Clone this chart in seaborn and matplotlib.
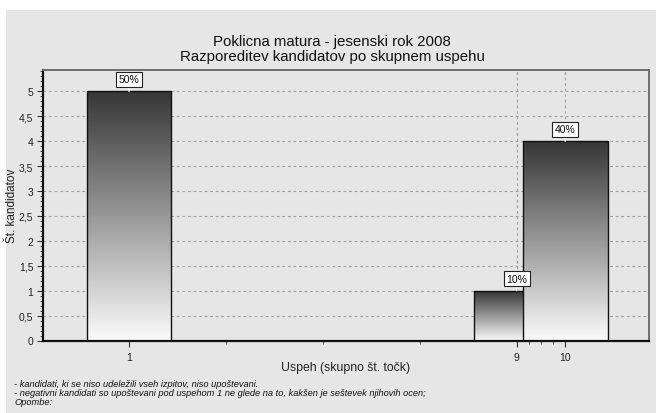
import matplotlib
matplotlib.use("Agg")
import matplotlib.pyplot as plt
import matplotlib.patches as mpatches
import numpy as np
import pandas as pd
import seaborn as sns

# data
uspeh = [1, 9, 10]
kandidati = [5, 1, 4]
title_lines = ["Poklicna matura - jesenski rok 2008",
               "Razporeditev kandidatov po skupnem uspehu"]
notes = ["- kandidati, ki se niso udeležili vseh izpitov, niso upoštevani.",
         "- negativni kandidati so upoštevani pod uspehom 1 ne glede na to, kakšen je seštevek njihovih ocen;",
         "Opombe:"]
y_ticks = [0, 0.5, 1, 1.5, 2, 2.5, 3, 3.5, 4, 4.5, 5]
x_minor = [3, 5, 7, 9.25, 9.5, 9.75]

df = pd.DataFrame({"uspeh": uspeh, "n": kandidati})
total = sum(kandidati)

sns.set_style("white")
plt.rcParams["font.family"] = ["Liberation Sans", "DejaVu Sans"]

bg = "#e6e6e6"
fig = plt.figure(figsize=(6.56, 4.14), dpi=100, facecolor="white")
fig.patches.append(mpatches.Rectangle((6 / 656, 0), 1, 1 - 11 / 414,
                                      transform=fig.transFigure,
                                      facecolor=bg, edgecolor="none", zorder=-10))
ax = fig.add_axes([43 / 656, 1 - 341.5 / 414, 606 / 656, 270.5 / 414])
ax.set_facecolor(bg)

sns.barplot(data=df, x="uspeh", y="n", native_scale=True, width=1.75,
            color="gray", ax=ax, errorbar=None)

# gradient fill, dark at top to white at bottom
grad = np.linspace(0, 1, 256).reshape(-1, 1)
cmap = matplotlib.colors.LinearSegmentedColormap.from_list("g", ["#fbfbfb", "#363636"])
for i, p in enumerate(ax.patches):
    x0, y0 = p.get_x(), p.get_y()
    w, h = p.get_width(), p.get_height()
    ax.imshow(grad, extent=[x0, x0 + w, y0, y0 + h], origin="lower",
              cmap=cmap, aspect="auto", zorder=2 + i * 0.2, interpolation="bilinear")
    p.set_facecolor("none")
    p.set_edgecolor("#111111")
    p.set_linewidth(1)
    p.set_zorder(2.1 + i * 0.2)

for x, v in zip(uspeh, kandidati):
    ax.annotate(f"{v / total * 100:.0f}%", xy=(x, v), xytext=(0, 12),
                textcoords="offset pixels", ha="center", va="center",
                fontsize=7.5, color="#111111", zorder=5,
                bbox=dict(boxstyle="square,pad=0.25", fc="white", ec="#222222", lw=0.8),
                arrowprops=dict(arrowstyle="-", color="white", lw=1, shrinkA=0, shrinkB=0))

ax.set_xlim(-0.775, 11.73)
ax.set_ylim(0, 5.43)

ax.set_yticks(y_ticks)
ax.set_yticklabels([f"{v:g}".replace(".", ",") for v in y_ticks])
ax.set_yticks(np.arange(0, 5.43, 0.1), minor=True)
ax.set_xticks(uspeh)
ax.set_xticklabels([str(u) for u in uspeh])
ax.set_xticks(x_minor, minor=True)
ax.tick_params(axis="both", which="major", length=4, width=0.8, color="#333333",
               labelsize=7.5, labelcolor="#222222", pad=3, direction="out")
ax.tick_params(axis="both", which="minor", length=2, width=0.6, color="#333333",
               direction="out")
ax.tick_params(axis="x", which="major", pad=4)
ax.tick_params(left=True, bottom=True, which="both")

ax.set_axisbelow(True)
ax.yaxis.grid(True, color="#a0a0a0", linestyle=(0, (2.5, 2.5)), linewidth=0.8)
ax.xaxis.grid(True, color="#a0a0a0", linestyle=(0, (2.5, 2.5)), linewidth=0.8)
ax.get_xgridlines()[0].set_visible(False)

for side in ["left", "bottom"]:
    ax.spines[side].set_color("#111111")
    ax.spines[side].set_linewidth(1.6)
for side in ["top", "right"]:
    ax.spines[side].set_color("#6e6e6e")
    ax.spines[side].set_linewidth(1.4)

ax.set_xlabel("Uspeh (skupno št. točk)", fontsize=8.8, color="#222222")
ax.xaxis.set_label_coords(0.5, -0.075)
ax.set_ylabel("Št. kandidatov", fontsize=8.5, color="#222222")
ax.yaxis.set_label_coords(-0.041, 0.5)

fig.text(332 / 656, 1 - 42 / 414, title_lines[0], ha="center", va="center",
         fontsize=10.8, color="#111111")
fig.text(332 / 656, 1 - 57 / 414, title_lines[1], ha="center", va="center",
         fontsize=10.8, color="#111111")

for yy, line in zip([385, 394, 403], notes):
    fig.text(14 / 656, 1 - yy / 414, line, ha="left", va="center",
             fontsize=6.7, style="italic", color="#111111")

fig.savefig("out.png", dpi=100, facecolor=fig.get_facecolor())
